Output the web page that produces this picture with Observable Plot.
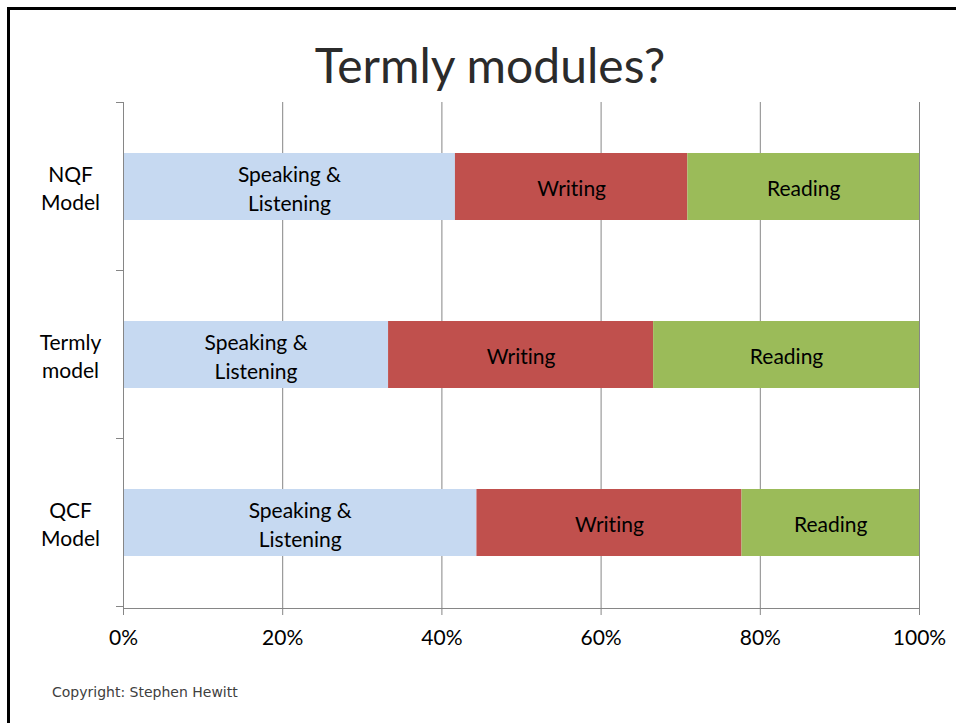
<!DOCTYPE html>
<html><head><meta charset="utf-8">
<script src="https://cdn.jsdelivr.net/npm/d3@7"></script>
<script src="https://cdn.jsdelivr.net/npm/@observablehq/plot@0.6"></script>
<style>
html,body{margin:0;padding:0;background:#fff;}
#page{position:relative;width:956px;height:723px;overflow:hidden;background:#fff;}
#frame{position:absolute;left:7px;top:7px;width:2000px;height:2000px;border-top:3px solid #000;border-left:3px solid #000;}
#title{position:absolute;left:0;top:41px;width:980px;text-align:center;font-family:Lato,sans-serif;font-size:48px;line-height:48px;color:#2b2b2b;font-variant-ligatures:none;}
#chart{position:absolute;left:0;top:0;}
#chart svg text{font-variant-ligatures:none;}
#copy{position:absolute;left:52px;top:685px;font-family:"DejaVu Sans",sans-serif;font-size:14px;line-height:14px;color:#404040;}
</style>
</head><body>
<div id="page">
  <div id="frame"></div>
  <div id="chart"></div>
  <div id="title">Termly modules?</div>
  <div id="copy">Copyright: Stephen Hewitt</div>
</div>
<script>
const models = ["NQF Model", "Termly model", "QCF Model"];
const parts = ["Speaking & Listening", "Writing", "Reading"];
const partLabels = ["Speaking &\nListening", "Writing", "Reading"];
const speaking = [41.7, 33.3, 44.4];
const writing = [29.2, 33.3, 33.3];
const reading = [29.1, 33.4, 22.3];
const xTicks = [0, 20, 40, 60, 80, 100];
const colors = ["#c6d9f1", "#c0504d", "#9bbb59"];

const series = [speaking, writing, reading];
const rows = models.flatMap((m, i) => parts.map((p, j) => ({
  model: m, part: p, label: partLabels[j], value: series[j][i]
})));

const plot = Plot.plot({
  width: 956, height: 723,
  marginLeft: 123, marginRight: 37, marginTop: 102, marginBottom: 115,
  style: {fontFamily: "Lato, sans-serif", fontSize: "21px", color: "#000", background: "transparent"},
  x: {domain: [0, 100], ticks: xTicks, tickFormat: d => d + "%", label: null},
  y: {domain: models, paddingInner: 0.6, paddingOuter: 0.3, axis: null},
  color: {domain: parts, range: colors},
  marks: [
    Plot.ruleX(xTicks.filter(d => d > 0), {stroke: "#868686", strokeOpacity: 1}),
    Plot.barX(rows, Plot.stackX({x: "value", y: "model", fill: "part"})),
    Plot.text(rows, Plot.stackX({x: "value", y: "model", z: "part", text: "label", lineHeight: 1.4, fill: "#000", fontSize: 21})),
    Plot.frame({anchor: "bottom", stroke: "#868686", strokeOpacity: 1}),
    Plot.frame({anchor: "left", stroke: "#868686", strokeOpacity: 1}),
    Plot.axisX({ticks: xTicks, tickFormat: d => d + "%", tickSize: 7, tickPadding: 15, stroke: "#868686", fill: "#000", fontSize: 21, label: null}),
    Plot.text(models, {y: d => d, text: d => d.replace(" ", "\n"), frameAnchor: "left", dx: -53, textAnchor: "middle", lineHeight: 1.35, fill: "#000", fontSize: 21})
  ]
});

// category-axis tick marks at band boundaries (Excel style)
const ys = plot.scale("y");
const xs = plot.scale("x");
const x0 = xs.apply(0);
const bounds = models.map(m => ys.apply(m) - (ys.step - ys.bandwidth) / 2);
bounds.push(bounds[bounds.length - 1] + ys.step);
d3.select(plot).append("g")
  .selectAll("line").data(bounds).join("line")
  .attr("x1", x0 - 7).attr("x2", x0)
  .attr("y1", d => d).attr("y2", d => d)
  .attr("stroke", "#868686");

document.getElementById("chart").appendChild(plot);
</script>
</body></html>
